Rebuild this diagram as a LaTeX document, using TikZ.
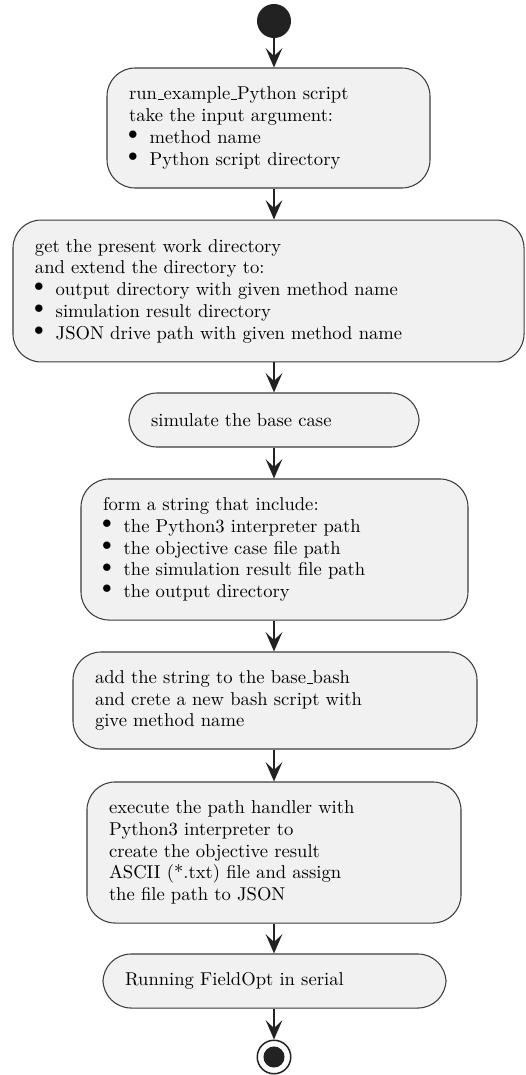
\documentclass[tikz,border=0pt]{standalone}
\usetikzlibrary{arrows.meta}

\definecolor{boxfill}{RGB}{241,241,241}
\definecolor{boxline}{RGB}{60,60,60}
\definecolor{ink}{RGB}{34,34,34}

% bullet item marker used inside the activity boxes
\newcommand{\bul}{\makebox[11.8pt][l]{\kern-0.5pt\raisebox{2.1pt}{$\bullet$}}}
% short low rule for identifiers such as run_example
\newcommand{\us}{\leavevmode\kern.06em\vbox{\hrule width .3em}}

\tikzset{
  stepbox/.style n args={3}{
    draw=boxline, fill=boxfill, line width=0.6pt,
    rounded corners=16pt, align=left, inner xsep=12.5pt, inner ysep=0pt,
    minimum width=#1, minimum height=#2, text width=#3,
    font=\fontsize{10.6pt}{12.4pt}\selectfont
  },
  flow/.style={draw=ink, line width=0.9pt,
    -{Stealth[length=11pt,width=9.5pt,inset=4.5pt]}},
  startdot/.style={circle, fill=ink, minimum size=19.4pt, inner sep=0pt},
  enddot/.style={circle, draw=ink, fill=white, line width=0.85pt,
    minimum size=19.1pt, inner sep=0pt}
}

\begin{document}
\begin{tikzpicture}[x=0.57pt, y=-0.57pt]
  \useasboundingbox (0,0) rectangle (525,1075);

  \node[startdot] (s) at (274,21) {};

  \node[stepbox={184.1pt}{68.4pt}{159pt}] (b1) at (268.5,128)
    {run\us example\us Python script\\
     take the input argument:\\
     \bul method name\\
     \bul Python script directory};

  \node[stepbox={291.3pt}{80.9pt}{266.2pt}] (b2) at (268.5,291)
    {get the present work directory\\
     and extend the directory to:\\
     \bul output directory with given method name\\
     \bul simulation result directory\\
     \bul JSON drive path with given method name};

  \node[stepbox={165.3pt}{30.8pt}{140.2pt}] (b3) at (274,420)
    {simulate the base case};

  \node[stepbox={220.6pt}{80.4pt}{195.5pt}] (b4) at (274.5,549.5)
    {form a string that include:\\
     \bul the Python3 interpreter path\\
     \bul the objective case file path\\
     \bul the simulation result file path\\
     \bul the output directory};

  \node[stepbox={230.3pt}{55.3pt}{205.2pt}] (b5) at (275,700.5)
    {add the string to the base\us bash\\
     and crete a new bash script with\\
     give method name};

  \node[stepbox={213.2pt}{80.4pt}{188.1pt}] (b6) at (274,852.5)
    {execute the path handler with\\
     Python3 interpreter to\\
     create the objective result\\
     ASCII (*.txt) file and assign\\
     the file path to JSON};

  \node[stepbox={195.5pt}{30.8pt}{170.4pt}] (b7) at (274.5,981)
    {Running FieldOpt in serial};

  \node[enddot] (e) at (274,1057) {};
  \fill[ink] (e.center) circle (6pt);

  % control flow, all on the common vertical axis
  \draw[flow] (s.south) -- (b1.north -| s.center);
  \draw[flow] (b1.south -| s.center) -- (b2.north -| s.center);
  \draw[flow] (b2.south -| s.center) -- (b3.north -| s.center);
  \draw[flow] (b3.south -| s.center) -- (b4.north -| s.center);
  \draw[flow] (b4.south -| s.center) -- (b5.north -| s.center);
  \draw[flow] (b5.south -| s.center) -- (b6.north -| s.center);
  \draw[flow] (b6.south -| s.center) -- (b7.north -| s.center);
  \draw[flow] (b7.south -| s.center) -- (e.north);
\end{tikzpicture}
\end{document}
